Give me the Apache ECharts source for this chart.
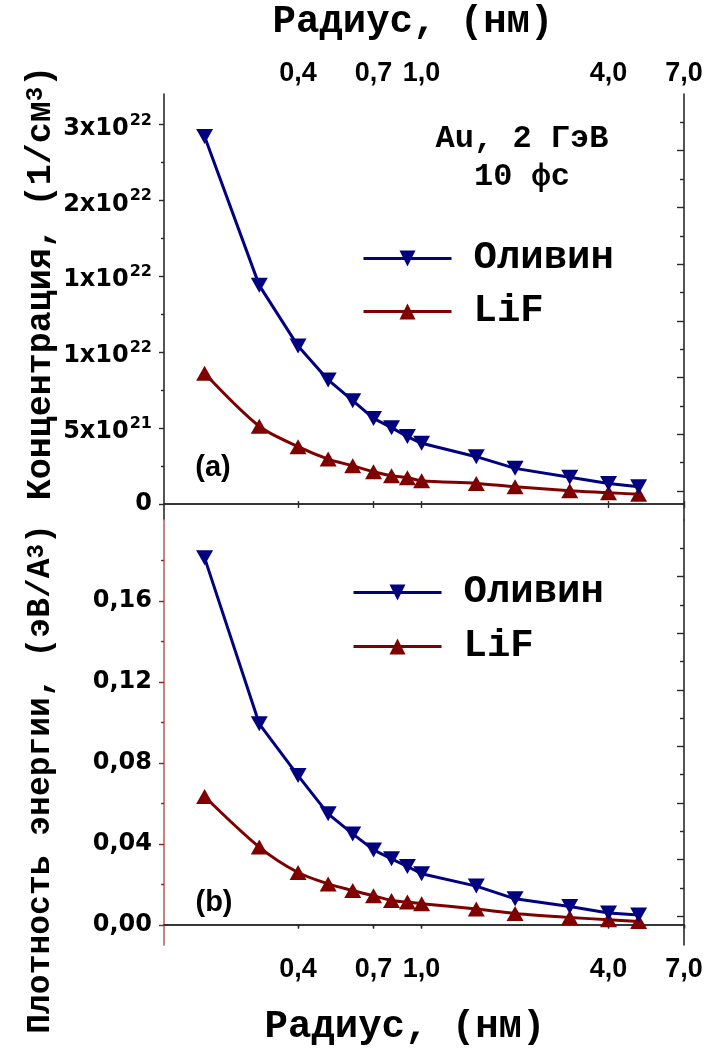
<!DOCTYPE html>
<html>
<head>
<meta charset="utf-8">
<script src="https://cdn.jsdelivr.net/npm/echarts@6/dist/echarts.min.js"></script>
<style>
  html, body { margin: 0; padding: 0; background: #fff; }
  #chart { width: 706px; height: 1050px; }
</style>
</head>
<body>
<div id="chart"></div>
<script>
// Radius of the track region, nm
const radius = [0.2, 0.3, 0.4, 0.5, 0.6, 0.7, 0.8, 0.9, 1.0, 1.5, 2.0, 3.0, 4.0, 5.0];

// (a) electron concentration, 1/cm^3
const concOlivine = [2.42e22, 1.44e22, 1.04e22, 8.17e21, 6.81e21, 5.64e21, 5.03e21, 4.44e21, 4.0e21, 3.12e21, 2.35e21, 1.76e21, 1.36e21, 1.14e21];
const concLiF = [8.61e21, 5.12e21, 3.78e21, 2.96e21, 2.52e21, 2.13e21, 1.87e21, 1.74e21, 1.54e21, 1.36e21, 1.14e21, 0.88e21, 0.75e21, 0.64e21];

// (b) energy density, eV/A^3
const energyOlivine = [0.1813, 0.0993, 0.0737, 0.0548, 0.0449, 0.0370, 0.0326, 0.0288, 0.0252, 0.0191, 0.0128, 0.0090, 0.0058, 0.0048];
const energyLiF = [0.0634, 0.0384, 0.0258, 0.0202, 0.0169, 0.0143, 0.0120, 0.0112, 0.0104, 0.0078, 0.0056, 0.0036, 0.0025, 0.0016];

// Tick values and their printed labels
const radiusTicks = [0.4, 0.7, 1.0, 4.0, 7.0];
const concTicks = [0, 5e21, 1e22, 1.5e22, 2e22, 2.5e22];
const concTickMantissa = ['0', '5x10', '1x10', '1x10', '2x10', '3x10'];
const concTickExponent = ['', '21', '22', '22', '22', '22'];
const energyTicks = [0, 0.04, 0.08, 0.12, 0.16];
const rightTicks = [0, 1, 2, 3, 4, 5, 6];

const seriesNames = ['Оливин', 'LiF'];
const COLOR_OL = '#000080';
const COLOR_LIF = '#800000';
const FRAME = '#2a2a2a';
const MONO = '"Liberation Mono", "DejaVu Sans Mono", monospace';

function midpoints(arr) {
  const out = [];
  for (let i = 0; i < arr.length - 1; i++) out.push((arr[i] + arr[i + 1]) / 2);
  return out;
}
const concMinor = midpoints(concTicks);
const energyMinor = midpoints(energyTicks.concat([0.2]));
const rightMinor = midpoints(rightTicks.concat([7]));

function pairs(xs, ys) { return xs.map((x, i) => [x, ys[i]]); }

const xLabelStyle = {
  fontFamily: '"Liberation Sans", Arial, sans-serif', fontWeight: 'bold', fontSize: 27, color: '#000'
};
const fmtRadius = v => Number(v).toFixed(1).replace('.', ',');

function xAxisCfg(grid, pos, showLabels, inside, len, margin) {
  return {
    type: 'log', gridIndex: grid, position: pos, min: 0.148, max: 7,
    axisLine: { show: true, lineStyle: { color: FRAME, width: 1.6 } },
    axisTick: { show: true, customValues: radiusTicks, inside: inside, length: len, lineStyle: { color: FRAME, width: 1.4 } },
    axisLabel: Object.assign({ show: showLabels, customValues: radiusTicks, formatter: fmtRadius, margin: margin }, xLabelStyle),
    splitLine: { show: false }, minorTick: { show: false }
  };
}

function tickOnlyY(grid, pos, min, max, values, inside, len, color, showLine, lineColor) {
  return {
    type: 'value', gridIndex: grid, position: pos, min: min, max: max,
    axisLine: { show: showLine, onZero: false, lineStyle: { color: lineColor || FRAME, width: 1.6 } },
    axisTick: { show: true, customValues: values, inside: inside, length: len, lineStyle: { color: color, width: 1.4 } },
    axisLabel: { show: false },
    splitLine: { show: false }
  };
}

function concLabel(v) {
  let idx = 0, best = Infinity;
  concTicks.forEach((t, i) => { const d = Math.abs(t - v); if (d < best) { best = d; idx = i; } });
  const e = concTickExponent[idx];
  if (!e) return '{m|' + concTickMantissa[idx] + '}';
  return '{mb|' + concTickMantissa[idx] + '}{e|' + e + '}';
}

const yLabelFont = { fontFamily: '"DejaVu Sans", Verdana, sans-serif', fontWeight: 'bold', color: '#000' };

const legendText = { fontFamily: MONO, fontWeight: 'bold', fontSize: 39, lineHeight: 39, color: '#000', padding: [0, 0, 0, 17] };

const option = {
  animation: false,
  backgroundColor: '#fff',
  grid: [
    { left: 164, top: 94, width: 520, height: 426 },
    { left: 164, top: 520, width: 520, height: 425 }
  ],
  xAxis: [
    xAxisCfg(0, 'top', true, true, 4, 7),
    xAxisCfg(0, 'bottom', false, true, 3, 8),
    xAxisCfg(1, 'top', false, true, 3, 8),
    xAxisCfg(1, 'bottom', true, false, 4, 11)
  ],
  yAxis: [
    {
      type: 'value', gridIndex: 0, position: 'left', min: -1.05e21, max: 2.7e22,
      axisLine: { show: true, onZero: false, lineStyle: { color: FRAME, width: 1.6 } },
      axisTick: { show: true, customValues: concTicks, length: 5, lineStyle: { color: FRAME, width: 1.4 } },
      axisLabel: {
        customValues: concTicks, margin: 12, formatter: concLabel,
        rich: {
          m: Object.assign({ fontSize: 24, lineHeight: 24 }, yLabelFont),
          mb: Object.assign({ fontSize: 24, lineHeight: 24, padding: [8, 0, 0, 0] }, yLabelFont),
          e: Object.assign({ fontSize: 16, lineHeight: 16, padding: [0, 0, 8, 1] }, yLabelFont)
        }
      },
      splitLine: { show: false }
    },
    tickOnlyY(0, 'left', -1.05e21, 2.7e22, concMinor, false, 3, FRAME, false),
    tickOnlyY(0, 'right', -0.51, 7, rightTicks, true, 7, FRAME, true),
    tickOnlyY(0, 'right', -0.51, 7, rightMinor, true, 4, FRAME, false),
    {
      type: 'value', gridIndex: 1, position: 'left', min: -0.01, max: 0.2,
      axisLine: { show: true, onZero: false, lineStyle: { color: '#c07878', width: 1.8 } },
      axisTick: { show: true, customValues: energyTicks, length: 5, lineStyle: { color: '#9a1c1c', width: 1.4 } },
      axisLabel: Object.assign({
        customValues: energyTicks, margin: 12, fontSize: 24,
        formatter: v => Number(v).toFixed(2).replace('.', ',')
      }, yLabelFont),
      splitLine: { show: false }
    },
    tickOnlyY(1, 'left', -0.01, 0.2, energyMinor, false, 3, '#9a1c1c', false),
    tickOnlyY(1, 'right', -0.51, 7, rightTicks, true, 7, FRAME, true),
    tickOnlyY(1, 'right', -0.51, 7, rightMinor, true, 4, FRAME, false)
  ],
  legend: [
    {
      data: seriesNames, orient: 'vertical', left: 362, top: 239, padding: 0,
      itemWidth: 88, itemHeight: 20, itemGap: 14, selectedMode: false,
      lineStyle: { width: 3 },
      textStyle: legendText
    },
    {
      data: seriesNames, orient: 'vertical', left: 352, top: 573, padding: 0,
      itemWidth: 88, itemHeight: 20, itemGap: 15, selectedMode: false,
      lineStyle: { width: 3 },
      textStyle: legendText
    }
  ],
  series: [
    {
      name: seriesNames[1], type: 'line', xAxisIndex: 0, yAxisIndex: 0,
      data: pairs(radius, concLiF), smooth: 0.3,
      symbol: 'triangle', symbolSize: [17, 15],
      itemStyle: { color: COLOR_LIF }, lineStyle: { color: COLOR_LIF, width: 3 }, z: 2
    },
    {
      name: seriesNames[0], type: 'line', xAxisIndex: 0, yAxisIndex: 0,
      data: pairs(radius, concOlivine),
      symbol: 'triangle', symbolRotate: 180, symbolSize: [17, 15],
      itemStyle: { color: COLOR_OL }, lineStyle: { color: COLOR_OL, width: 3 }, z: 3
    },
    {
      name: seriesNames[1], type: 'line', xAxisIndex: 3, yAxisIndex: 4,
      data: pairs(radius, energyLiF), smooth: 0.3,
      symbol: 'triangle', symbolSize: [17, 15],
      itemStyle: { color: COLOR_LIF }, lineStyle: { color: COLOR_LIF, width: 3 }, z: 2
    },
    {
      name: seriesNames[0], type: 'line', xAxisIndex: 3, yAxisIndex: 4,
      data: pairs(radius, energyOlivine),
      symbol: 'triangle', symbolRotate: 180, symbolSize: [17, 15],
      itemStyle: { color: COLOR_OL }, lineStyle: { color: COLOR_OL, width: 3 }, z: 3
    }
  ],
  graphic: [
    { type: 'text', x: 413, y: 22, style: { text: 'Радиус, (нм)', fontFamily: MONO, fontWeight: 'bold', fontSize: 39, fill: '#000', align: 'center', verticalAlign: 'middle', textAlign: 'center', textVerticalAlign: 'middle' } },
    { type: 'text', x: 405, y: 1027, style: { text: 'Радиус, (нм)', fontFamily: MONO, fontWeight: 'bold', fontSize: 39, fill: '#000', align: 'center', verticalAlign: 'middle', textAlign: 'center', textVerticalAlign: 'middle' } },
    {
      type: 'text', x: 41, y: 283, rotation: Math.PI / 2,
      style: {
        text: 'Концентрация, (1/см{s|3})', fontFamily: MONO, fontWeight: 'bold', fontSize: 35, fill: '#000',
        align: 'center', verticalAlign: 'middle', textAlign: 'center', textVerticalAlign: 'middle',
        rich: { s: { fontFamily: MONO, fontWeight: 'bold', fontSize: 24, lineHeight: 14, verticalAlign: 'top' } }
      }
    },
    {
      type: 'text', x: 41, y: 779, rotation: Math.PI / 2,
      style: {
        text: 'Плотность энергии, (эВ/A{s|3})', fontFamily: MONO, fontWeight: 'bold', fontSize: 33, fill: '#000',
        align: 'center', verticalAlign: 'middle', textAlign: 'center', textVerticalAlign: 'middle',
        rich: { s: { fontFamily: MONO, fontWeight: 'bold', fontSize: 24, lineHeight: 14, verticalAlign: 'top' } }
      }
    },
    { type: 'text', x: 522, y: 139, style: { text: 'Au, 2 ГэВ', fontFamily: MONO, fontWeight: 'bold', fontSize: 32, fill: '#000', align: 'center', verticalAlign: 'middle', textAlign: 'center', textVerticalAlign: 'middle' } },
    { type: 'text', x: 522, y: 177, style: { text: '10 фс', fontFamily: MONO, fontWeight: 'bold', fontSize: 32, fill: '#000', align: 'center', verticalAlign: 'middle', textAlign: 'center', textVerticalAlign: 'middle' } },
    { type: 'text', x: 213, y: 468, style: { text: '(a)', fontFamily: '"Liberation Sans", Arial, sans-serif', fontWeight: 'bold', fontSize: 29, fill: '#000', align: 'center', verticalAlign: 'middle', textAlign: 'center', textVerticalAlign: 'middle' } },
    { type: 'text', x: 214, y: 903, style: { text: '(b)', fontFamily: '"Liberation Sans", Arial, sans-serif', fontWeight: 'bold', fontSize: 29, fill: '#000', align: 'center', verticalAlign: 'middle', textAlign: 'center', textVerticalAlign: 'middle' } }
  ]
};

const chart = echarts.init(document.getElementById('chart'), null, { renderer: 'canvas' });
chart.setOption(option);
</script>
</body>
</html>
